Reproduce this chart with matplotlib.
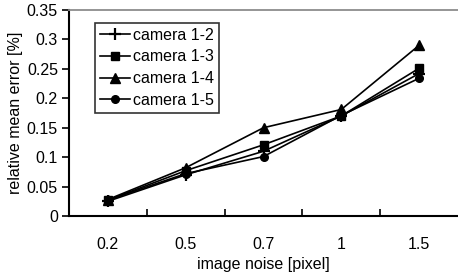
import matplotlib
matplotlib.use("Agg")
import matplotlib.pyplot as plt
import numpy as np

plt.rcParams['font.family'] = ['Liberation Sans', 'DejaVu Sans']

categories = ["0.2", "0.5", "0.7", "1", "1.5"]
series_names = ["camera 1-2", "camera 1-3", "camera 1-4", "camera 1-5"]
cam12 = [0.025, 0.070, 0.110, 0.170, 0.242]
cam13 = [0.027, 0.077, 0.121, 0.170, 0.251]
cam14 = [0.028, 0.082, 0.150, 0.181, 0.290]
cam15 = [0.027, 0.072, 0.101, 0.171, 0.234]
yticks = [0, 0.05, 0.1, 0.15, 0.2, 0.25, 0.3, 0.35]
ytick_labels = ["0", "0.05", "0.1", "0.15", "0.2", "0.25", "0.3", "0.35"]

FS = 11.5

fig = plt.figure(figsize=(4.58, 2.77), dpi=100)
ax = fig.add_axes([69/458, 1-216/277, 1-69/458, (216-10)/277])

x = np.arange(len(categories))
styles = [
    dict(marker='+', markersize=9, markeredgewidth=1.6),
    dict(marker='s', markersize=6),
    dict(marker='^', markersize=7),
    dict(marker='o', markersize=5.5),
]
for vals, name, st in zip([cam12, cam13, cam14, cam15], series_names, styles):
    ax.plot(x, vals, color='black', linewidth=1.2, label=name, **st)

ax.set_xlim(-0.5, len(categories) - 0.5)
ax.set_ylim(0, 0.35)
ax.set_yticks(yticks)
ax.set_yticklabels(ytick_labels, fontsize=FS)
ax.set_xticks(x)
ax.set_xticklabels(categories, fontsize=FS)
ax.tick_params(axis='x', which='major', length=0, pad=15)
ax.set_xticks(np.arange(0.5, len(categories) - 1, 1.0), minor=True)
ax.tick_params(axis='x', which='minor', direction='in', length=5, width=1.2)
ax.tick_params(axis='y', direction='out', length=5, width=1.2, pad=3)

for s in ['left', 'bottom']:
    ax.spines[s].set_linewidth(1.5)
ax.spines['right'].set_visible(False)
ax.spines['top'].set_color('#8c8c8c')
ax.spines['top'].set_linewidth(1.3)

ax.set_xlabel("image noise [pixel]", fontsize=FS, labelpad=4)
ax.set_ylabel("relative mean error [%]", fontsize=FS, labelpad=3)

leg = ax.legend(loc='upper left', bbox_to_anchor=(0.067, 0.937), borderaxespad=0,
                fontsize=FS, frameon=True, fancybox=False, handlelength=1.9,
                handletextpad=0.2, labelspacing=0.42, borderpad=0.3)
leg.get_frame().set_edgecolor('black')
leg.get_frame().set_linewidth(1.2)

fig.savefig("out.png", dpi=100)
